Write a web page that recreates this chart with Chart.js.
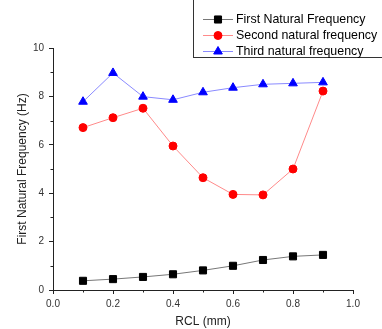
<!DOCTYPE html>
<html lang="en">
<head>
    <meta charset="UTF-8">
    <title>Natural Frequency vs RCL</title>
    <script src="https://cdn.jsdelivr.net/npm/chart.js"></script>
    <style>
        body {
            margin: 0;
            padding: 0;
            background: #fff;
        }
    </style>
</head>
<body>
    <canvas id="freqChart" width="382" height="329"></canvas>

    <script>
        // values
        const rcl = [0.1, 0.2, 0.3, 0.4, 0.5, 0.6, 0.7, 0.8, 0.9];
        const firstFreq = [0.38, 0.45, 0.54, 0.65, 0.81, 1.0, 1.24, 1.39, 1.45];
        const secondFreq = [6.71, 7.12, 7.51, 5.95, 4.64, 3.95, 3.93, 5.0, 8.22];
        const thirdFreq = [7.78, 8.97, 7.99, 7.86, 8.17, 8.36, 8.5, 8.54, 8.58];
        const seriesNames = ['First Natural Frequency', 'Second natural frequency', 'Third natural frequency'];
        const xMinorTicks = [0.1, 0.3, 0.5, 0.7, 0.9];
        const yMinorTicks = [1, 3, 5, 7, 9];

        const font = 'Liberation Sans, Arial, sans-serif';

        function toPoints(vals) {
            return rcl.map((x, i) => ({ x: x, y: vals[i] }));
        }

        // short minor ticks on the outside of both axes
        const minorTicks = {
            id: 'minorTicks',
            afterDraw(chart) {
                const ctx = chart.ctx;
                const xs = chart.scales.x, ys = chart.scales.y;
                const area = chart.chartArea;
                ctx.save();
                ctx.strokeStyle = '#222';
                ctx.lineWidth = 1;
                ctx.beginPath();
                xMinorTicks.forEach(v => {
                    const px = Math.round(xs.getPixelForValue(v)) + 0.5;
                    ctx.moveTo(px, area.bottom);
                    ctx.lineTo(px, area.bottom + 2.5);
                });
                yMinorTicks.forEach(v => {
                    const py = Math.round(ys.getPixelForValue(v)) + 0.5;
                    ctx.moveTo(area.left, py);
                    ctx.lineTo(area.left - 2.5, py);
                });
                ctx.stroke();
                ctx.restore();
            }
        };

        // legend box in the top right corner, line + marker samples
        const boxLegend = {
            id: 'boxLegend',
            afterDraw(chart) {
                const ctx = chart.ctx;
                ctx.save();
                ctx.strokeStyle = '#333';
                ctx.lineWidth = 1;
                ctx.strokeRect(193.5, -5, 200, 62.5);
                chart.data.datasets.forEach((ds, i) => {
                    const y = 19 + i * 16;
                    ctx.strokeStyle = ds.borderColor;
                    ctx.beginPath();
                    ctx.moveTo(203, y + 0.5);
                    ctx.lineTo(233, y + 0.5);
                    ctx.stroke();
                    ctx.fillStyle = ds.pointBackgroundColor;
                    ctx.strokeStyle = ds.pointBorderColor;
                    Chart.helpers.drawPoint(ctx, {
                        pointStyle: ds.pointStyle,
                        radius: ds.pointRadius,
                        rotation: 0,
                        borderWidth: 1
                    }, 218, y + 0.5);
                    ctx.fillStyle = '#000';
                    ctx.font = '12.4px ' + font;
                    ctx.textBaseline = 'middle';
                    ctx.fillText(ds.label, 236, y + 1);
                });
                ctx.restore();
            }
        };

        const ctx = document.getElementById('freqChart').getContext('2d');
        const freqChart = new Chart(ctx, {
            type: 'line',
            data: {
                datasets: [{
                    label: seriesNames[0],
                    data: toPoints(firstFreq),
                    borderColor: '#777777',
                    borderWidth: 1,
                    pointStyle: 'rect',
                    pointRadius: 5,
                    pointBackgroundColor: '#000000',
                    pointBorderColor: '#000000'
                }, {
                    label: seriesNames[1],
                    data: toPoints(secondFreq),
                    borderColor: '#ff8a8a',
                    borderWidth: 1,
                    pointStyle: 'circle',
                    pointRadius: 4,
                    pointBackgroundColor: '#ff0000',
                    pointBorderColor: '#ff0000'
                }, {
                    label: seriesNames[2],
                    data: toPoints(thirdFreq),
                    borderColor: '#8a8aff',
                    borderWidth: 1,
                    pointStyle: 'triangle',
                    pointRadius: 5,
                    pointBackgroundColor: '#0000ff',
                    pointBorderColor: '#0000ff'
                }]
            },
            options: {
                responsive: false,
                animation: false,
                layout: {
                    padding: { top: 48, right: 29, left: 0, bottom: 0 }
                },
                plugins: {
                    legend: { display: false },
                    tooltip: { enabled: false }
                },
                scales: {
                    x: {
                        type: 'linear',
                        min: 0,
                        max: 1,
                        afterFit(scale) { scale.height = 39; },
                        ticks: {
                            stepSize: 0.2,
                            padding: 4,
                            color: '#333',
                            font: { family: font, size: 10 },
                            callback: v => v.toFixed(1)
                        },
                        grid: {
                            drawOnChartArea: false,
                            tickLength: 4,
                            color: '#222'
                        },
                        border: { color: '#222', width: 1 },
                        title: {
                            display: true,
                            text: 'RCL (mm)',
                            color: '#222',
                            font: { family: font, size: 12 },
                            padding: { top: 0, bottom: 0 }
                        }
                    },
                    y: {
                        min: 0,
                        max: 10,
                        afterFit(scale) { scale.width = 53; },
                        ticks: {
                            stepSize: 2,
                            padding: 5,
                            color: '#333',
                            font: { family: font, size: 10 }
                        },
                        grid: {
                            drawOnChartArea: false,
                            tickLength: 4,
                            color: '#222'
                        },
                        border: { color: '#222', width: 1 },
                        title: {
                            display: true,
                            text: 'First Natural Frequency (Hz)',
                            color: '#222',
                            font: { family: font, size: 12 },
                            padding: { top: 15, bottom: 0 }
                        }
                    }
                }
            },
            plugins: [minorTicks, boxLegend]
        });
    </script>
</body>
</html>
